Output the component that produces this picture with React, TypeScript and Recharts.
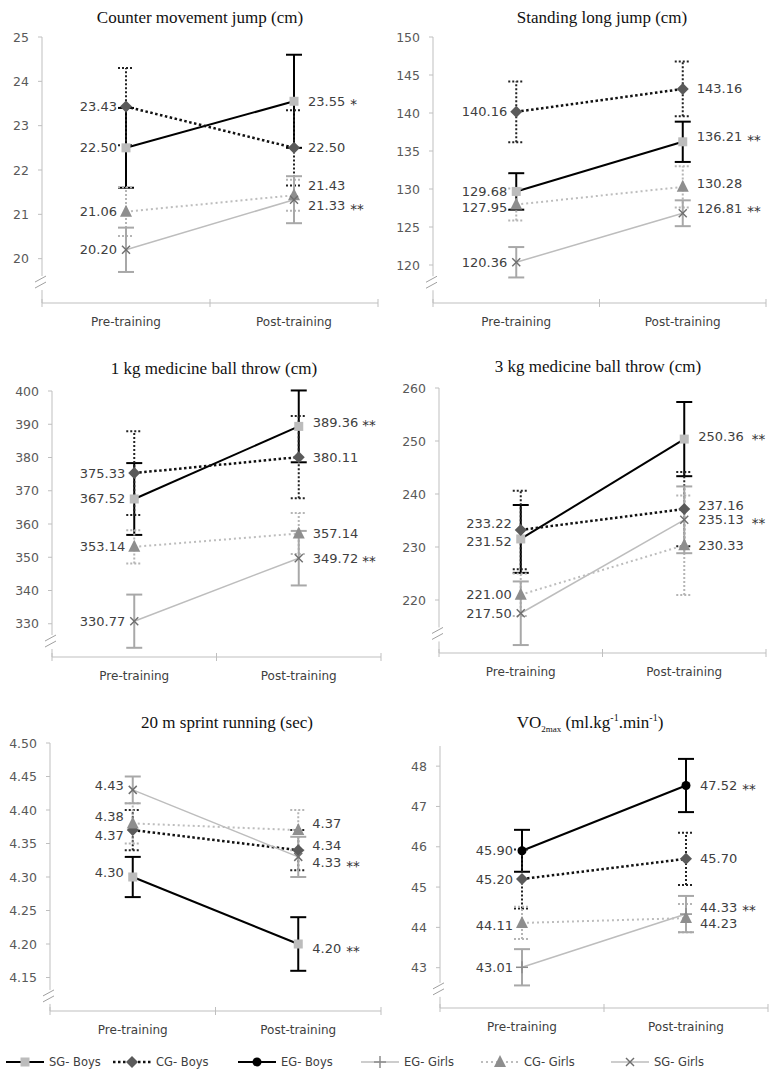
import React from 'react'
import { ErrorBar, LabelList, Line, LineChart, XAxis, YAxis } from 'recharts'

const phases = ['Pre-training', 'Post-training']
const phaseX = [0.5, 1.5]

// Counter movement jump (cm)
const cmjTicks = [20, 21, 22, 23, 24, 25]
const cmjSgBoys = [22.5, 23.55]
const cmjSgBoysSd = [0.9, 1.05]
const cmjCgBoys = [23.43, 22.5]
const cmjCgBoysSd = [0.87, 0.85]
const cmjCgGirls = [21.06, 21.43]
const cmjCgGirlsSd = [0.55, 0.35]
const cmjSgGirls = [20.2, 21.33]
const cmjSgGirlsSd = [0.5, 0.53]

// Standing long jump (cm)
const sljTicks = [120, 125, 130, 135, 140, 145, 150]
const sljSgBoys = [129.68, 136.21]
const sljSgBoysSd = [2.4, 2.65]
const sljCgBoys = [140.16, 143.16]
const sljCgBoysSd = [4.0, 3.6]
const sljCgGirls = [127.95, 130.28]
const sljCgGirlsSd = [2.1, 2.7]
const sljSgGirls = [120.36, 126.81]
const sljSgGirlsSd = [2.0, 1.7]

// 1 kg medicine ball throw (cm)
const mb1Ticks = [330, 340, 350, 360, 370, 380, 390, 400]
const mb1SgBoys = [367.52, 389.36]
const mb1SgBoysSd = [10.8, 10.8]
const mb1CgBoys = [375.33, 380.11]
const mb1CgBoysSd = [12.6, 12.4]
const mb1CgGirls = [353.14, 357.14]
const mb1CgGirlsSd = [5.0, 6.2]
const mb1SgGirls = [330.77, 349.72]
const mb1SgGirlsSd = [8.0, 8.2]

// 3 kg medicine ball throw (cm)
const mb3Ticks = [220, 230, 240, 250, 260]
const mb3SgBoys = [231.52, 250.36]
const mb3SgBoysSd = [6.4, 7.0]
const mb3CgBoys = [233.22, 237.16]
const mb3CgBoysSd = [7.4, 7.0]
const mb3CgGirls = [221.0, 230.33]
const mb3CgGirlsSd = [4.0, 9.4]
const mb3SgGirls = [217.5, 235.13]
const mb3SgGirlsSd = [6.0, 6.3]

// 20 m sprint running (sec)
const sprTicks = [4.15, 4.2, 4.25, 4.3, 4.35, 4.4, 4.45, 4.5]
const sprSgBoys = [4.3, 4.2]
const sprSgBoysSd = [0.03, 0.04]
const sprCgBoys = [4.37, 4.34]
const sprCgBoysSd = [0.03, 0.03]
const sprCgGirls = [4.38, 4.37]
const sprCgGirlsSd = [0.03, 0.03]
const sprSgGirls = [4.43, 4.33]
const sprSgGirlsSd = [0.02, 0.03]

// VO2max (ml.kg-1.min-1)
const vo2Ticks = [43, 44, 45, 46, 47, 48]
const vo2EgBoys = [45.9, 47.52]
const vo2EgBoysSd = [0.52, 0.66]
const vo2CgBoys = [45.2, 45.7]
const vo2CgBoysSd = [0.73, 0.65]
const vo2CgGirls = [44.11, 44.23]
const vo2CgGirlsSd = [0.4, 0.35]
const vo2EgGirls = [43.01, 44.33]
const vo2EgGirlsSd = [0.45, 0.45]

type Key = 'sgBoys' | 'cgBoys' | 'egBoys' | 'egGirls' | 'cgGirls' | 'sgGirls'
type Shape = 'square' | 'diamond' | 'circle' | 'plus' | 'triangle' | 'cross'

const FONT = '"DejaVu Sans", sans-serif'
const AXIS = '#bfbfbf'
const TEXT = '#404040'

const STYLE: Record<Key, { name: string; stroke: string; width: number; dash?: string; bar: string; barDash?: string; shape: Shape }> = {
  sgBoys: { name: 'SG- Boys', stroke: '#000', width: 2, bar: '#000', shape: 'square' },
  cgBoys: { name: 'CG- Boys', stroke: '#111', width: 2.5, dash: '2.5 2.5', bar: '#222', barDash: '2 2', shape: 'diamond' },
  egBoys: { name: 'EG- Boys', stroke: '#000', width: 2, bar: '#000', shape: 'circle' },
  egGirls: { name: 'EG- Girls', stroke: '#bdbdbd', width: 1.5, bar: '#a8a8a8', shape: 'plus' },
  cgGirls: { name: 'CG- Girls', stroke: '#bdbdbd', width: 2, dash: '2 3', bar: '#b5b5b5', barDash: '2 2', shape: 'triangle' },
  sgGirls: { name: 'SG- Girls', stroke: '#bdbdbd', width: 1.5, bar: '#a8a8a8', shape: 'cross' },
}
const legendOrder: Key[] = ['sgBoys', 'cgBoys', 'egBoys', 'egGirls', 'cgGirls', 'sgGirls']

interface SeriesDef {
  key: Key
  mean: number[]
  sd: number[]
  stars?: string
  nudge?: [number, number]
}

interface Panel {
  id: string
  title: React.ReactNode
  domain: [number, number]
  ticks: number[]
  breakAt: number
  decimals: number
  series: SeriesDef[]
  geo: { left: number; right: number; top: number; bottom: number; titleX: number; titleY: number }
  starGap: number
}

const vo2Title = (
  <span>
    VO<sub style={{ fontSize: 9 }}>2max</sub> (ml.kg<sup style={{ fontSize: 10 }}>-1</sup>.min<sup style={{ fontSize: 10 }}>-1</sup>)
  </span>
)

const panels: Panel[] = [
  {
    id: 'cmj', title: 'Counter movement jump (cm)', domain: [19, 25], ticks: cmjTicks, breakAt: 19.45, decimals: 0, starGap: 5,
    geo: { left: 42, right: 378, top: 37, bottom: 303, titleX: 200, titleY: 18 },
    series: [
      { key: 'sgBoys', mean: cmjSgBoys, sd: cmjSgBoysSd, stars: '*' },
      { key: 'cgBoys', mean: cmjCgBoys, sd: cmjCgBoysSd },
      { key: 'cgGirls', mean: cmjCgGirls, sd: cmjCgGirlsSd, nudge: [0, -10] },
      { key: 'sgGirls', mean: cmjSgGirls, sd: cmjSgGirlsSd, stars: '**', nudge: [0, 6] },
    ],
  },
  {
    id: 'slj', title: 'Standing long jump (cm)', domain: [115, 150], ticks: sljTicks, breakAt: 117.6, decimals: 0, starGap: 5,
    geo: { left: 433, right: 766, top: 37, bottom: 303, titleX: 602, titleY: 18 },
    series: [
      { key: 'sgBoys', mean: sljSgBoys, sd: sljSgBoysSd, stars: '**', nudge: [0, -5] },
      { key: 'cgBoys', mean: sljCgBoys, sd: sljCgBoysSd },
      { key: 'cgGirls', mean: sljCgGirls, sd: sljCgGirlsSd, nudge: [3, -3] },
      { key: 'sgGirls', mean: sljSgGirls, sd: sljSgGirlsSd, stars: '**', nudge: [0, -5] },
    ],
  },
  {
    id: 'mb1', title: '1 kg medicine ball throw (cm)', domain: [320, 400], ticks: mb1Ticks, breakAt: 324.5, decimals: 0, starGap: 4,
    geo: { left: 52, right: 381, top: 391, bottom: 657, titleX: 214, titleY: 369 },
    series: [
      { key: 'sgBoys', mean: mb1SgBoys, sd: mb1SgBoysSd, stars: '**', nudge: [0, -4] },
      { key: 'cgBoys', mean: mb1CgBoys, sd: mb1CgBoysSd },
      { key: 'cgGirls', mean: mb1CgGirls, sd: mb1CgGirlsSd },
      { key: 'sgGirls', mean: mb1SgGirls, sd: mb1SgGirlsSd, stars: '**' },
    ],
  },
  {
    id: 'mb3', title: '3 kg medicine ball throw (cm)', domain: [210, 260], ticks: mb3Ticks, breakAt: 213.5, decimals: 0, starGap: 8,
    geo: { left: 439, right: 766, top: 388, bottom: 653, titleX: 598, titleY: 367 },
    series: [
      { key: 'sgBoys', mean: mb3SgBoys, sd: mb3SgBoysSd, stars: '**', nudge: [3, -3] },
      { key: 'cgBoys', mean: mb3CgBoys, sd: mb3CgBoysSd, nudge: [-6, -4] },
      { key: 'cgGirls', mean: mb3CgGirls, sd: mb3CgGirlsSd },
      { key: 'sgGirls', mean: mb3SgGirls, sd: mb3SgGirlsSd, stars: '**' },
    ],
  },
  {
    id: 'spr', title: '20 m sprint running (sec)', domain: [4.1, 4.5], ticks: sprTicks, breakAt: 4.121, decimals: 2, starGap: 5,
    geo: { left: 50, right: 381, top: 743, bottom: 1011, titleX: 227, titleY: 723 },
    series: [
      { key: 'sgBoys', mean: sprSgBoys, sd: sprSgBoysSd, stars: '**', nudge: [-5, 4] },
      { key: 'cgBoys', mean: sprCgBoys, sd: sprCgBoysSd, nudge: [5, -5] },
      { key: 'cgGirls', mean: sprCgGirls, sd: sprCgGirlsSd, nudge: [-7, -7] },
      { key: 'sgGirls', mean: sprSgGirls, sd: sprSgGirlsSd, stars: '**', nudge: [-4, 6] },
    ],
  },
  {
    id: 'vo2', title: vo2Title, domain: [42, 48.5], ticks: vo2Ticks, breakAt: 42.45, decimals: 0, starGap: 5,
    geo: { left: 440, right: 768, top: 746, bottom: 1008, titleX: 590, titleY: 723 },
    series: [
      { key: 'egBoys', mean: vo2EgBoys, sd: vo2EgBoysSd, stars: '**' },
      { key: 'cgBoys', mean: vo2CgBoys, sd: vo2CgBoysSd },
      { key: 'cgGirls', mean: vo2CgGirls, sd: vo2CgGirlsSd, nudge: [3, 5] },
      { key: 'egGirls', mean: vo2EgGirls, sd: vo2EgGirlsSd, stars: '**', nudge: [0, -7] },
    ],
  },
]

function Marker({ shape, cx, cy }: { shape: Shape; cx: number; cy: number }) {
  switch (shape) {
    case 'square':
      return <rect x={cx - 4.5} y={cy - 4.5} width={9} height={9} fill="#bcbcbc" />
    case 'diamond':
      return <polygon points={`${cx},${cy - 6} ${cx + 6},${cy} ${cx},${cy + 6} ${cx - 6},${cy}`} fill="#5a5a5a" />
    case 'circle':
      return <circle cx={cx} cy={cy} r={4.5} fill="#000" />
    case 'plus':
      return (
        <g stroke="#8c8c8c" strokeWidth={1.5}>
          <line x1={cx - 6} x2={cx + 6} y1={cy} y2={cy} />
          <line x1={cx} x2={cx} y1={cy - 6} y2={cy + 6} />
        </g>
      )
    case 'triangle':
      return <polygon points={`${cx},${cy - 7} ${cx + 6},${cy + 5} ${cx - 6},${cy + 5}`} fill="#8e8e8e" />
    case 'cross':
      return (
        <g stroke="#6e6e6e" strokeWidth={1.5}>
          <line x1={cx - 4} x2={cx + 4} y1={cy - 4} y2={cy + 4} />
          <line x1={cx - 4} x2={cx + 4} y1={cy + 4} y2={cy - 4} />
        </g>
      )
  }
}

function PhaseTick(props: any) {
  const { x, y, payload } = props
  const v = payload.value
  if (Number.isInteger(v)) return <line x1={x} x2={x} y1={y - 4} y2={y + 4} stroke={AXIS} />
  return (
    <text x={x} y={y + 19} textAnchor="middle" dominantBaseline="central" fontSize={12} fill={TEXT} fontFamily={FONT}>
      {phases[phaseX.indexOf(v)]}
    </text>
  )
}

const makeValueTick = (panel: Panel) => (props: any) => {
  const { x, y, payload } = props
  if (payload.value === panel.breakAt) {
    return (
      <g>
        <rect x={x - 2} y={y - 7} width={4} height={14} fill="#fff" />
        <g stroke="#a0a0a0" strokeWidth={1}>
          <line x1={x - 7} y1={y - 1} x2={x + 4} y2={y - 7} />
          <line x1={x - 7} y1={y + 5} x2={x + 4} y2={y - 1} />
        </g>
      </g>
    )
  }
  return (
    <g>
      <line x1={x - 4} x2={x} y1={y} y2={y} stroke={AXIS} />
      <text x={x - 13} y={y} textAnchor="end" dominantBaseline="central" fontSize={12.5} fill="#595959" fontFamily={FONT}>
        {payload.value.toFixed(panel.decimals)}
      </text>
    </g>
  )
}

const makeLabel = (panel: Panel, s: SeriesDef) => (props: any) => {
  const x = props.x ?? props.viewBox?.x
  const y = props.y ?? props.viewBox?.y
  const i = props.index as number
  const dy = s.nudge ? s.nudge[i] : 0
  const text = Number(props.value).toFixed(2)
  if (i === 0) {
    return (
      <text x={x - 9} y={y + dy} textAnchor="end" dominantBaseline="central" fontSize={13} fill={TEXT} fontFamily={FONT}>
        {text}
      </text>
    )
  }
  return (
    <text x={x + 14} y={y + dy} textAnchor="start" dominantBaseline="central" fontSize={13} fill={TEXT} fontFamily={FONT}>
      {text}
      {s.stars ? (
        <tspan dx={panel.starGap} fontSize={13.5} fill="#333" dy={3}>
          {s.stars}
        </tspan>
      ) : null}
    </text>
  )
}

const AXIS_W = 45
const AXIS_H = 30
const TOP_PAD = 10

function PanelChart({ panel }: { panel: Panel }) {
  const g = panel.geo
  const data = phases.map((_, i) => {
    const row: Record<string, number> = { x: phaseX[i] }
    panel.series.forEach((s) => {
      row[s.key] = s.mean[i]
      row[`${s.key}Sd`] = s.sd[i]
    })
    return row
  })
  const width = g.right - g.left + AXIS_W + 5
  const height = g.bottom - g.top + TOP_PAD + AXIS_H
  const yTicks = [panel.breakAt, ...panel.ticks]
  return (
    <>
      <div
        style={{
          position: 'absolute',
          left: g.titleX,
          top: g.titleY,
          transform: 'translate(-50%, -50%)',
          whiteSpace: 'nowrap',
          fontFamily: '"Liberation Serif", "Times New Roman", serif',
          fontSize: 17,
          color: '#111',
        }}
      >
        {panel.title}
      </div>
      <div style={{ position: 'absolute', left: g.left - AXIS_W, top: g.top - TOP_PAD }}>
        <LineChart width={width} height={height} data={data} margin={{ top: TOP_PAD, right: 5, bottom: 0, left: 0 }} style={{ overflow: 'visible' }}>
          <XAxis
            type="number"
            dataKey="x"
            domain={[0, 2]}
            ticks={[0, 0.5, 1, 1.5, 2]}
            interval={0}
            height={AXIS_H}
            axisLine={{ stroke: AXIS }}
            tickLine={false}
            tickSize={0}
            tickMargin={0}
            tick={<PhaseTick />}
          />
          <YAxis
            type="number"
            domain={panel.domain}
            allowDataOverflow
            ticks={yTicks}
            interval={0}
            width={AXIS_W}
            axisLine={{ stroke: AXIS }}
            tickLine={false}
            tickSize={0}
            tickMargin={0}
            tick={makeValueTick(panel)}
          />
          {panel.series.map((s) => {
            const st = STYLE[s.key]
            return (
              <Line
                key={s.key}
                type="linear"
                dataKey={s.key}
                stroke={st.stroke}
                strokeWidth={st.width}
                strokeDasharray={st.dash}
                isAnimationActive={false}
                activeDot={false}
                dot={(p: any) => <Marker key={`${s.key}-${p.index}`} shape={st.shape} cx={p.cx} cy={p.cy} />}
              >
                <ErrorBar
                  dataKey={`${s.key}Sd`}
                  direction="y"
                  width={8}
                  stroke={st.bar}
                  strokeWidth={2}
                  strokeDasharray={st.barDash}
                  isAnimationActive={false}
                />
                <LabelList dataKey={s.key} content={makeLabel(panel, s)} />
              </Line>
            )
          })}
        </LineChart>
      </div>
    </>
  )
}

const legendLeft = [5, 112, 237, 360, 480, 610]

function Legend() {
  return (
    <>
      {legendOrder.map((k, i) => {
        const st = STYLE[k]
        return (
          <div key={k} style={{ position: 'absolute', left: legendLeft[i], top: 1054, display: 'flex', alignItems: 'center' }}>
            <svg width={40} height={16}>
              <line x1={1} x2={39} y1={8} y2={8} stroke={st.stroke} strokeWidth={st.width} strokeDasharray={st.dash} />
              <Marker shape={st.shape} cx={20} cy={8} />
            </svg>
            <span style={{ fontFamily: FONT, fontSize: 11.5, color: TEXT, marginLeft: 4 }}>{st.name}</span>
          </div>
        )
      })}
    </>
  )
}

export default function App() {
  return (
    <div style={{ position: 'absolute', left: 0, top: 0, width: 778, height: 1085, background: '#fff' }}>
      {panels.map((p) => (
        <PanelChart key={p.id} panel={p} />
      ))}
      <Legend />
    </div>
  )
}
